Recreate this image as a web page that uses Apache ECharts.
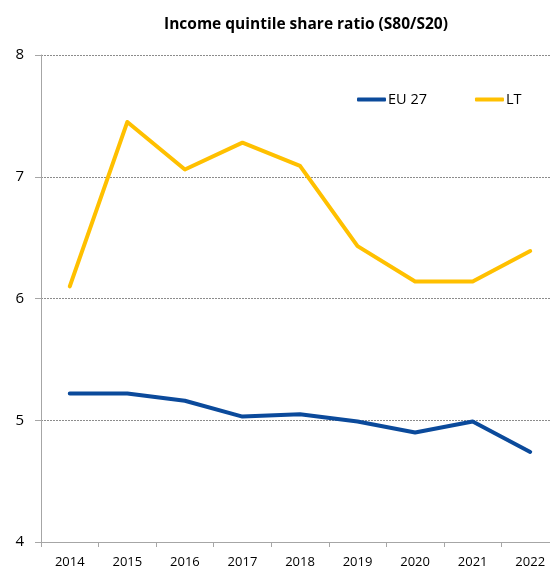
<!DOCTYPE html>
<html>
<head>
<meta charset="utf-8">
<script src="https://cdn.jsdelivr.net/npm/echarts@6/dist/echarts.min.js"></script>
<style>
html,body{margin:0;padding:0;background:#fff;}
#chart{width:550px;height:567px;}
</style>
</head>
<body>
<div id="chart"></div>
<script>
const categories = ['2014','2015','2016','2017','2018','2019','2020','2021','2022'];
const eu27 = [5.22, 5.22, 5.16, 5.03, 5.05, 4.99, 4.90, 4.99, 4.74];
const lt = [6.10, 7.45, 7.06, 7.28, 7.09, 6.43, 6.14, 6.14, 6.39];
const yTicks = [4, 5, 6, 7, 8];

const chart = echarts.init(document.getElementById('chart'));
const font = "'Open Sans', 'Liberation Sans', Arial, sans-serif";
chart.setOption({
  animation: false,
  title: {
    text: 'Income quintile share ratio (S80/S20)',
    left: 301, top: 12, textAlign: 'center',
    textStyle: { fontFamily: font, fontSize: 15.5, fontWeight: 'bold', color: '#000' }
  },
  legend: {
    left: 352, top: 87,
    itemWidth: 29, itemHeight: 4, itemGap: 48,
    icon: 'roundRect',
    textStyle: { fontFamily: font, fontSize: 14.5, color: '#000', padding: [0,0,0,-3] },
    data: ['EU 27', 'LT']
  },
  grid: { left: 41, width: 518, top: 55, bottom: 25, containLabel: false, outerBoundsMode: 'none' },
  xAxis: {
    type: 'category',
    data: categories,
    boundaryGap: true,
    axisLine: { lineStyle: { color: '#a6a6a6', width: 1 } },
    axisTick: { show: true, length: 5, lineStyle: { color: '#a6a6a6' } },
    axisLabel: { fontFamily: font, fontSize: 13, color: '#000', margin: 14 }
  },
  yAxis: {
    type: 'value',
    min: 4, max: 8, interval: 1,
    axisLine: { show: true, lineStyle: { color: '#a6a6a6', width: 1 } },
    axisTick: { show: true, length: 6, lineStyle: { color: '#a6a6a6' } },
    axisLabel: { fontFamily: font, fontSize: 15, color: '#000', margin: 17,
      formatter: v => yTicks.includes(v) ? String(v) : '' },
    splitLine: { show: true, lineStyle: { color: '#8c8c8c', type: [2, 1], width: 1 } }
  },
  series: [
    { name: 'EU 27', type: 'line', data: eu27, showSymbol: false, symbol: 'none',
      color: '#0b4a9b', lineStyle: { width: 4, color: '#0b4a9b', cap: 'round', join: 'round' } },
    { name: 'LT', type: 'line', data: lt, showSymbol: false, symbol: 'none',
      color: '#ffc000', lineStyle: { width: 4, color: '#ffc000', cap: 'round', join: 'round' } }
  ]
});
</script>
</body>
</html>
